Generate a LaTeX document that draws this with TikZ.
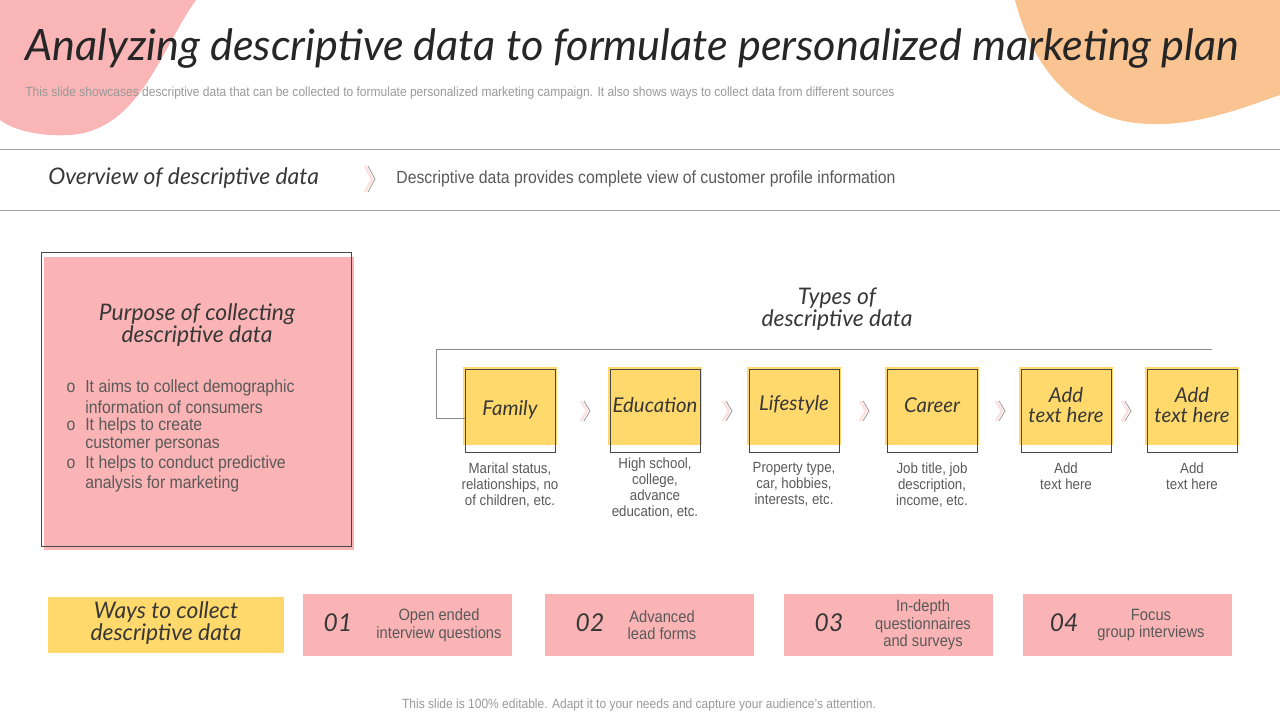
\documentclass[tikz,border=0pt]{standalone}
\usepackage{fontspec}
\setmainfont{Liberation Sans}[FakeStretch=0.9]
\newfontfamily\handfont{Lato}
\newcommand\hw{\handfont\itshape}
\usetikzlibrary{positioning}
\definecolor{blobpink}{RGB}{250,182,182}
\definecolor{blobpeach}{RGB}{249,196,146}
\definecolor{notepink}{RGB}{251,180,181}
\definecolor{noteyellow}{RGB}{255,217,108}
\definecolor{inkdark}{RGB}{38,38,38}
\definecolor{txtgray}{RGB}{89,89,89}
\tikzset{
	handtxt/.style={font=\hw\fontsize{13}{12.5}\selectfont,text=inkdark!92,align=center,inner sep=0pt},
	bodytxt/.style={font=\fontsize{10}{10.8}\selectfont,text=txtgray,inner sep=0pt},
	smalltxt/.style={font=\fontsize{8.4}{9.1}\selectfont,text=txtgray,align=center,inner sep=0pt},
	chev/.style={draw=gray!80,line width=0.45pt},
	chevshade/.style={draw=notepink!40,line width=1.4pt},
	typebox/.style={draw=inkdark!85,line width=0.5pt,minimum width=1.8cm,minimum height=1.66cm,inner sep=0pt},
	waybox/.style={fill=notepink,minimum width=4.18cm,minimum height=1.24cm,inner sep=0pt}
}
\begin{document}
\begin{tikzpicture}[x=0.02cm,y=-0.02cm]
	\useasboundingbox (0,0) rectangle (1280,720);
	% corner blobs
	\fill[blobpink] (0,0) -- (196,0) .. controls (160,50) and (140,130) .. (70,135)
		.. controls (35,137) and (10,128) .. (0,120) -- cycle;
	\fill[blobpeach] (1015,0) .. controls (1030,60) and (1070,122) .. (1150,124)
		.. controls (1200,126) and (1250,105) .. (1280,95) -- (1280,0) -- cycle;
	% heading
	\node[anchor=base west,inner sep=0pt,text=inkdark,font=\hw\fontsize{24.6}{30}\selectfont] (title) at (25,60)
		{Analyzing descriptive data to formulate personalized marketing plan};
	\node[anchor=base west,inner sep=0pt,text=gray!80,font=\fontsize{7.6}{8}\selectfont] (sub) at (25,96)
		{This slide showcases descriptive data that can be collected to formulate personalized marketing campaign. It also shows ways to collect data from different sources};
	% overview band
	\draw[gray!75] (0,149) -- (1280,149)
		(0,210) -- (1280,210);
	\node[handtxt,anchor=west,font=\hw\fontsize{13}{14}\selectfont] (ovw) at (48,178) {Overview of descriptive data};
	\draw[chevshade] (365,166) -- (372,179) -- (365,192);
	\draw[chev] (368,166) -- (375,179) -- (368,192);
	\node[bodytxt,anchor=west] (ovwtxt) at (396,179)
		{Descriptive data provides complete view of customer profile information};
	% purpose card
	\fill[notepink] (44,257) rectangle (354,550);
	\draw[inkdark!85,line width=0.5pt] (41,252) rectangle (351,546);
	\node[handtxt] (purp) at (197,325) {Purpose of collecting\\descriptive data};
	\foreach \y in {388,426,464}{
		\node[bodytxt] at (71,\y) {o};
	}
	\foreach \y/\t in {388/It aims to collect demographic,407/information of consumers,426/It helps to create,
		445/customer personas,464/It helps to conduct predictive,484/analysis for marketing}{
		\node[bodytxt,anchor=west] at (85,\y) {\t};
	}
	% types of descriptive data
	\node[handtxt] (types) at (837,309) {Types of\\descriptive data};
	\foreach \n/\cx/\ty/\t in {fam/510/410/Family,edu/655/405/Education,life/794/405/Lifestyle,
		car/932/405/Career,adda/1066/405/Add\\text here,addb/1192/405/Add\\text here}{
		\fill[noteyellow] (\cx-47,367) rectangle (\cx+47,445);
		\node[typebox] (\n) at (\cx,410.5) {};
		\node[handtxt,font=\hw\fontsize{11.6}{11}\selectfont] (\n-t) at (\cx,\ty) {\t};
	}
	\coordinate (brk) at (1212,349);
	\draw[gray!90] (brk) -- (436,349) |- ([yshift=-0.15cm]fam.west);
	\foreach \x in {587,729,866,1002,1128}{
		\draw[chevshade] (\x-6,401) -- (\x,411) -- (\x-6,421);
		\draw[chev] (\x-3,401) -- (\x+3,411) -- (\x-3,421);
	}
	\foreach \n/\ty/\t in {fam/462/{Marital status,\\relationships, no\\of children, etc.},
		edu/457/{High school,\\college,\\advance\\education, etc.},
		life/462/{Property type,\\car, hobbies,\\interests, etc.},
		car/462/{Job title, job\\description,\\income, etc.},
		adda/462/{Add\\text here},addb/462/{Add\\text here}}{
		\node[smalltxt,anchor=north] (\n-d) at (\n |- 0,\ty) {\t};
	}
	% ways to collect
	\node[fill=noteyellow,minimum width=4.72cm,minimum height=1.12cm,inner sep=0pt] (ways) at (166,625) {};
	\node[handtxt] (ways-t) at (166,623) {Ways to collect\\descriptive data};
	\foreach \n/\bx/\nx/\tx/\num/\t in {w1/407.5/338/439/01/{Open ended\\interview questions},
		w2/649.5/590/662/02/{Advanced\\lead forms},
		w3/888.5/829/923/03/{In-depth\\questionnaires\\and surveys},
		w4/1127.5/1064/1151/04/{Focus\\group interviews}}{
		\node[waybox] (\n) at (\bx,625) {};
		\node[handtxt,font=\hw\fontsize{14}{14}\selectfont] (\n-n) at (\nx,623) {\num};
		\node[smalltxt,font=\fontsize{9.3}{10}\selectfont] (\n-t) at (\tx,625) {\t};
	}
	\node[text=gray!80,inner sep=0pt,font=\fontsize{7.6}{8}\selectfont] (foot) at (639,705)
		{This slide is 100\% editable. Adapt it to your needs and capture your audience's attention.};
\end{tikzpicture}
\end{document}
